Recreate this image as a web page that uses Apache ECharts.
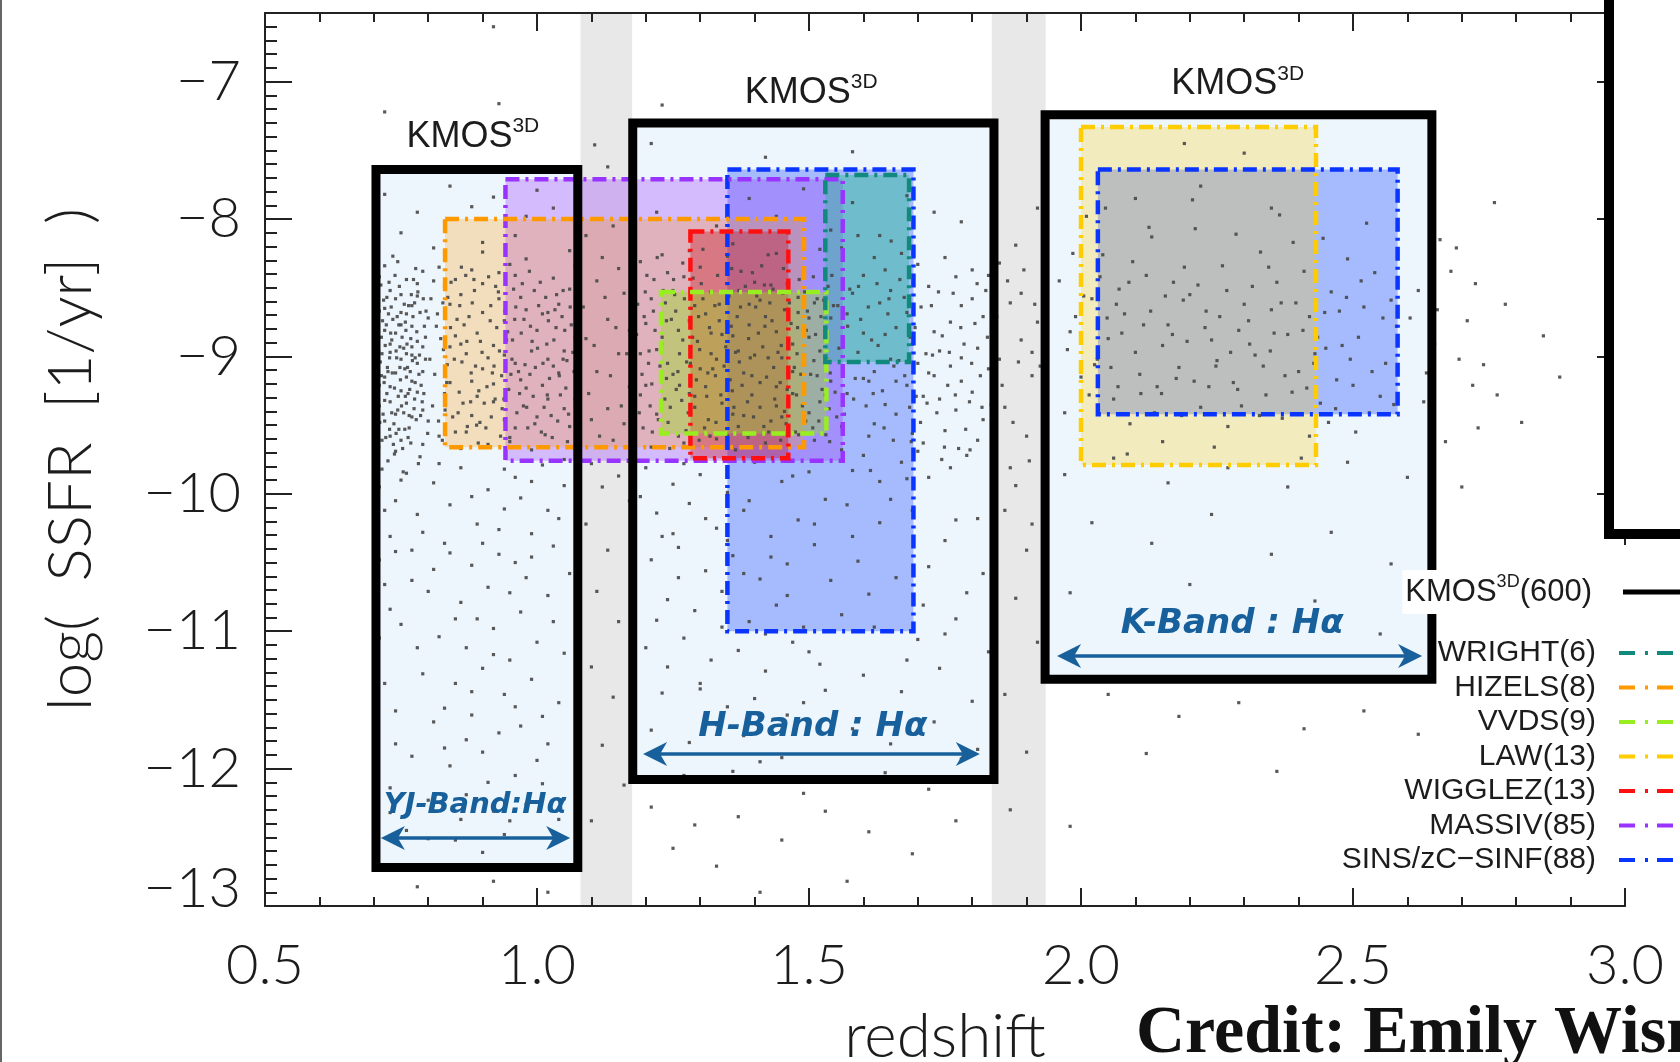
<!DOCTYPE html>
<html>
<head>
<meta charset="utf-8">
<script src="https://cdn.jsdelivr.net/npm/echarts@6/dist/echarts.min.js"></script>
<style>
html, body { margin: 0; padding: 0; background: #fff; }
#chart { width: 1680px; height: 1062px; }
</style>
</head>
<body>
<div id="chart"></div>
<script>
// ---------------- data ----------------
const xTicks = [0.5, 1.0, 1.5, 2.0, 2.5, 3.0];
const yTicks = [-13, -12, -11, -10, -9, -8, -7];

// redshift windows falling between the KMOS filters
const gapBands = [[1.08, 1.175], [1.836, 1.935]];

// KMOS3D coverage per filter: [zMin, zMax, ssfrMin, ssfrMax]
const kmosBands = ['YJ-Band:Hα', 'H-Band : Hα', 'K-Band : Hα'];
const kmosBoxes = [
  [0.704, 1.075, -12.72, -7.64],
  [1.176, 1.840, -12.08, -7.30],
  [1.934, 2.645, -11.35, -7.24]
];
const kmosCount = 600;

// earlier IFU surveys (legend order) and their sample sizes
const surveyNames = ['WRIGHT', 'HIZELS', 'VVDS', 'LAW', 'WIGGLEZ', 'MASSIV', 'SINS/zC\u2212SINF'];
const surveyCounts = [6, 8, 9, 13, 13, 85, 88];
// [survey index, zMin, zMax, ssfrMin, ssfrMax], listed bottom layer first
const surveyBoxes = [
  [6, 1.350, 1.692, -11.00, -7.64],
  [6, 2.031, 2.582, -9.42, -7.64],
  [5, 0.942, 1.562, -9.76, -7.71],
  [1, 0.831, 1.491, -9.66, -8.00],
  [4, 1.282, 1.462, -9.74, -8.09],
  [2, 1.228, 1.532, -9.56, -8.53],
  [3, 2.000, 2.432, -9.79, -7.33],
  [0, 1.530, 1.684, -9.04, -7.68]
];

// annotation anchors in (redshift, log SSFR)
const kmosTitleAt = [[0.882, -7.40], [1.504, -7.08], [2.288, -7.02]];
const bandLabelAt = [[0.886, -12.27], [1.507, -11.70], [2.278, -10.95]];
const bandArrows = [[0.713, 1.061, -12.505], [1.195, 1.814, -11.893], [1.956, 2.627, -11.18]];

// parent galaxy sample: [redshift, log SSFR]
const galaxies = [
  [0.71,-8.42],[0.72,-8.65],[0.73,-8.91],[0.74,-9.12],[0.75,-8.55],[0.76,-9.34],[0.77,-8.78],[0.78,-9.05],[0.79,-8.38],[0.71,-9.21],
  [0.72,-9.47],[0.73,-8.52],[0.74,-8.83],[0.75,-9.61],[0.76,-8.69],[0.77,-9.18],[0.78,-8.47],[0.79,-9.39],[0.715,-8.98],[0.725,-9.08],
  [0.735,-8.73],[0.745,-9.29],[0.755,-8.94],[0.765,-9.52],[0.775,-8.61],[0.785,-9.73],[0.795,-8.86],[0.72,-8.81],[0.73,-9.33],[0.74,-8.58],
  [0.75,-9.02],[0.76,-8.44],[0.77,-9.44],[0.78,-8.89],[0.79,-9.11],[0.71,-8.67],[0.73,-9.58],[0.75,-8.77],[0.77,-8.99],[0.79,-9.64],
  [0.72,-9.15],[0.74,-9.42],[0.76,-8.98],[0.78,-9.26],[0.80,-8.72],[0.71,-9.36],[0.73,-8.97],[0.75,-9.25],[0.77,-8.63],[0.79,-8.93],
  [0.72,-8.34],[0.74,-9.69],[0.76,-9.15],[0.78,-8.56],[0.80,-9.47],[0.715,-9.82],[0.735,-8.27],[0.755,-9.41],[0.775,-9.31],[0.795,-9.02],
  [0.705,-8.88],[0.712,-9.04],[0.718,-8.59],[0.724,-9.27],[0.731,-8.83],[0.737,-9.49],[0.743,-8.71],[0.749,-9.17],[0.756,-8.62],[0.762,-9.08],
  [0.768,-8.87],[0.774,-9.38],[0.781,-8.53],[0.787,-9.21],[0.793,-8.78],[0.799,-9.56],[0.708,-9.31],[0.716,-8.74],[0.722,-9.59],[0.728,-8.46],
  [0.734,-9.12],[0.741,-8.96],[0.747,-8.49],[0.753,-9.67],[0.759,-8.81],[0.766,-9.24],[0.772,-8.71],[0.778,-9.46],[0.784,-8.99],[0.791,-8.58],
  [0.706,-8.53],[0.714,-9.14],[0.721,-8.92],[0.727,-8.69],[0.733,-9.41],[0.739,-8.41],[0.746,-9.53],[0.752,-8.86],[0.758,-9.29],[0.764,-8.63],
  [0.771,-9.03],[0.777,-8.36],[0.783,-9.13],[0.789,-9.33],[0.796,-8.67],[0.709,-9.66],[0.717,-9.42],[0.726,-9.76],[0.736,-9.64],[0.744,-8.31],
  [0.754,-9.84],[0.763,-9.59],[0.773,-8.44],[0.782,-9.78],[0.792,-9.27],[0.703,-8.76],[0.713,-8.48],[0.729,-9.01],[0.748,-8.93],[0.767,-9.11],
  [0.702,-9.09],[0.707,-8.69],[0.711,-9.48],[0.719,-9.19],[0.723,-8.77],[0.729,-9.53],[0.732,-8.64],[0.738,-9.23],[0.742,-9.01],[0.746,-8.77],
  [0.751,-9.36],[0.757,-9.09],[0.761,-8.91],[0.765,-9.43],[0.769,-8.55],[0.776,-9.19],[0.779,-8.82],[0.786,-9.43],[0.704,-9.52],[0.709,-8.97],
  [0.714,-8.86],[0.720,-9.32],[0.726,-9.11],[0.733,-8.88],[0.738,-9.71],[0.744,-9.39],[0.750,-8.68],[0.757,-9.53],[0.763,-9.27],[0.770,-8.93],
  [0.706,-9.22],[0.715,-9.61],[0.724,-8.57],[0.730,-9.22],[0.741,-9.56],[0.748,-9.08],[0.758,-8.75],[0.768,-9.63],[0.776,-9.01],[0.785,-8.68],
  [0.71,-9.95],[0.72,-10.12],[0.73,-10.31],[0.71,-10.48],[0.74,-10.05],[0.72,-10.66],[0.75,-9.90],[0.73,-10.84],[0.71,-11.05],[0.74,-10.42],
  [0.72,-7.82],[0.75,-8.10],[0.78,-7.95],[0.84,-7.76],[0.88,-7.91],[0.92,-7.84],[0.96,-8.12],[1.00,-7.79],[1.03,-7.92],[0.81,-8.21],
  [0.90,-8.17],[0.98,-7.98],
  [0.82,-8.35],[0.84,-8.62],[0.86,-8.91],[0.88,-9.18],[0.90,-8.47],[0.92,-9.33],[0.94,-8.74],[0.96,-9.05],[0.98,-8.29],[1.00,-9.44],
  [1.02,-8.68],[1.04,-9.12],[1.06,-8.51],[0.83,-9.27],[0.85,-8.44],[0.87,-9.55],[0.89,-8.83],[0.91,-9.01],[0.93,-8.39],[0.95,-9.62],
  [0.97,-8.57],[0.99,-8.96],[1.01,-9.21],[1.03,-8.43],[1.05,-9.38],[1.07,-8.86],[0.815,-8.78],[0.835,-9.06],[0.855,-9.41],[0.875,-8.71],
  [0.895,-9.48],[0.915,-8.63],[0.935,-9.14],[0.955,-8.88],[0.975,-9.36],[0.995,-8.52],[1.015,-9.57],[1.035,-8.79],[1.055,-9.03],[0.82,-9.58],
  [0.84,-9.19],[0.86,-8.55],[0.88,-8.37],[0.90,-9.09],[0.92,-8.92],[0.94,-9.46],[0.96,-8.41],[0.98,-9.23],[1.00,-8.81],[1.02,-9.31],
  [1.04,-8.62],[1.06,-9.51],[0.83,-8.49],[0.87,-8.98],[0.91,-9.64],[0.95,-8.33],[0.99,-9.68],[1.03,-9.07],[1.07,-8.34],[0.85,-8.85],
  [0.89,-9.29],[0.93,-8.58],[0.97,-9.17],[1.01,-8.69],[1.05,-8.96],[0.86,-9.67],[0.90,-8.24],[0.94,-8.99],[0.98,-8.66],[1.02,-9.02],
  [1.06,-8.23],[0.84,-8.93],[0.88,-9.43],[0.92,-9.20],[0.96,-9.52],
  [0.805,-8.58],[0.812,-9.13],[0.823,-8.87],[0.831,-9.39],[0.842,-8.46],[0.848,-9.02],[0.857,-9.26],[0.866,-8.77],[0.872,-9.51],[0.881,-8.61],
  [0.887,-9.07],[0.896,-8.89],[0.903,-9.34],[0.911,-8.42],[0.918,-9.12],[0.926,-8.79],[0.933,-9.58],[0.941,-8.67],[0.948,-9.24],[0.957,-8.51],
  [0.963,-9.41],[0.971,-8.83],[0.978,-9.06],[0.986,-8.38],[0.993,-9.29],[1.001,-8.94],[1.008,-9.55],[1.016,-8.57],[1.023,-9.16],[1.031,-8.88],
  [1.038,-9.47],[1.046,-8.71],[1.053,-9.23],[1.061,-8.64],[1.068,-9.11],[0.808,-9.36],[0.817,-8.69],[0.826,-9.61],[0.836,-8.57],[0.845,-9.44],
  [0.853,-8.73],[0.862,-9.04],[0.869,-8.41],[0.878,-9.33],[0.885,-8.52],[0.892,-9.63],[0.900,-8.68],[0.908,-9.22],[0.916,-9.44],[0.924,-8.49],
  [0.931,-8.96],[0.939,-9.31],[0.946,-8.82],[0.952,-9.13],[0.961,-8.64],[0.968,-9.27],[0.976,-8.73],[0.983,-9.52],[0.991,-8.89],[0.997,-9.08],
  [1.006,-8.46],[1.013,-9.37],[1.021,-8.74],[1.028,-9.59],[1.036,-8.55],[1.043,-9.28],[1.051,-8.81],[1.058,-9.42],[1.066,-8.97],[1.072,-9.18],
  [0.803,-9.02],[0.810,-8.45],[0.819,-9.47],[0.827,-8.61],[0.834,-9.19],[0.841,-8.79],[0.850,-9.55],[0.858,-8.63],[0.864,-9.34],[0.871,-8.89],
  [0.879,-9.12],[0.884,-8.44],[0.893,-9.25],[0.899,-8.97],[0.906,-9.52],[0.914,-8.74],[0.921,-9.07],[0.929,-8.53],[0.936,-9.38],[0.944,-8.88],
  [0.950,-9.59],[0.959,-8.73],[0.966,-9.11],[0.973,-8.47],[0.981,-9.37],[0.988,-8.78],[0.996,-9.49],[1.003,-8.63],[1.011,-9.05],[1.018,-8.91],
  [1.026,-9.43],[1.033,-8.66],[1.041,-9.14],[1.048,-8.52],[1.056,-9.62],[1.063,-8.77],[1.070,-9.31],[0.828,-8.95],[0.861,-8.35],[0.889,-9.50],
  [0.923,-9.31],[0.954,-9.02],[0.987,-9.13],[1.019,-9.28],[1.048,-9.02],
  [0.76,-9.85],[0.81,-9.92],[0.86,-9.81],[0.91,-9.97],[0.96,-9.88],[1.01,-9.79],[1.05,-9.94],[0.78,-10.15],[0.84,-10.08],[0.89,-10.22],
  [0.94,-10.11],[0.99,-10.29],[1.04,-10.18],[0.77,-10.41],[0.83,-10.36],[0.88,-10.52],[0.93,-10.44],[0.98,-10.61],[1.03,-10.38],[0.80,-10.71],
  [0.86,-10.79],[0.91,-10.68],[0.97,-10.86],[1.02,-10.74],[0.75,-10.95],[0.82,-11.04],[0.87,-11.12],[0.92,-10.98],[0.95,-11.21],[1.00,-11.08],
  [1.05,-11.16],[0.79,-11.31],[0.85,-11.38],[0.90,-11.27],[0.94,-11.46],[0.99,-11.35],[1.04,-11.52],[0.74,-11.58],[0.81,-11.66],[0.88,-11.61],
  [0.93,-11.74],[0.97,-11.69],[1.02,-11.82],[0.77,-11.91],[0.84,-11.98],[0.90,-11.88],[0.96,-12.05],[1.01,-12.11],[0.73,-12.14],[0.80,-12.23],
  [0.87,-12.19],[0.92,-12.31],[0.98,-12.26],[1.04,-12.37],[0.76,-12.45],[0.85,-12.52],[0.94,-12.48],[0.89,-10.91],[0.83,-11.85],[0.96,-10.50],
  [0.72,-11.38],[0.74,-11.82],[0.73,-12.32],[0.79,-10.28],[0.81,-10.55],[0.85,-10.91],[0.88,-11.44],[0.92,-11.17],[0.95,-10.72],[0.99,-10.46],
  [1.03,-10.93],[1.06,-10.58],[0.78,-11.12],[0.83,-11.56],[0.87,-11.79],[0.91,-12.10],[0.95,-12.38],[1.00,-11.94],[1.05,-12.22],[0.80,-12.51],
  [0.88,-10.02],[0.93,-10.26],[0.97,-10.03],[1.02,-10.12],[0.84,-10.43],[0.90,-10.36],[0.96,-11.55],[1.01,-11.62],[0.77,-10.63],[0.86,-12.37],
  [0.94,-9.82],[0.82,-9.78],[0.99,-9.91],[1.05,-9.75],[0.90,-12.61],
  [0.78,-12.86],[0.92,-12.82],[1.02,-12.90],
  [1.09,-8.12],[1.11,-8.45],[1.13,-8.73],[1.15,-8.98],[1.17,-9.22],[1.10,-9.46],[1.12,-8.28],[1.14,-9.61],[1.16,-8.54],[1.09,-8.87],
  [1.11,-9.11],[1.13,-9.38],[1.15,-8.36],[1.17,-8.81],[1.10,-9.78],[1.12,-9.95],[1.14,-8.05],[1.16,-9.49],[1.09,-10.22],[1.13,-10.41],
  [1.17,-10.05],[1.11,-10.71],[1.15,-10.93],[1.10,-11.26],[1.14,-11.48],[1.12,-11.83],[1.16,-12.12],[1.10,-12.38],[1.13,-7.62],[1.15,-9.87],
  [1.085,-8.64],[1.095,-9.27],[1.105,-8.92],[1.115,-9.58],[1.125,-8.57],[1.135,-9.14],[1.145,-8.79],[1.155,-9.36],[1.165,-8.98],[1.172,-9.62],
  [1.19,-8.31],[1.21,-8.58],[1.23,-8.86],[1.25,-9.13],[1.27,-8.42],[1.29,-9.37],[1.31,-8.69],[1.33,-9.02],[1.35,-8.27],[1.37,-9.51],
  [1.39,-8.77],[1.41,-9.19],[1.43,-8.48],[1.45,-9.44],[1.47,-8.91],[1.49,-9.06],[1.51,-8.61],[1.53,-9.28],[1.20,-9.21],[1.22,-8.95],
  [1.24,-8.39],[1.26,-9.58],[1.28,-8.74],[1.30,-9.09],[1.32,-8.53],[1.34,-9.34],[1.36,-8.85],[1.38,-9.12],[1.40,-8.46],[1.42,-9.63],
  [1.44,-8.82],[1.46,-9.24],[1.48,-8.57],[1.50,-9.41],[1.52,-8.96],[1.54,-8.72],[1.195,-9.52],[1.215,-8.44],[1.235,-9.31],[1.255,-8.67],
  [1.275,-9.04],[1.295,-8.89],[1.315,-9.46],[1.335,-8.62],[1.355,-9.17],[1.375,-8.38],[1.395,-9.28],[1.415,-8.93],[1.435,-9.08],[1.455,-8.66],
  [1.475,-9.55],[1.495,-8.81],[1.515,-9.14],[1.535,-8.49],[1.20,-8.76],[1.24,-9.05],[1.28,-9.27],[1.32,-8.98],[1.36,-9.42],[1.40,-8.99],
  [1.44,-9.36],[1.48,-8.68],[1.52,-9.33],[1.22,-9.42],[1.26,-8.81],[1.30,-8.35],[1.34,-8.84],[1.38,-9.66],[1.42,-8.71],[1.46,-8.47],
  [1.50,-8.86],[1.54,-9.18],[1.21,-9.66],[1.25,-8.52],[1.29,-8.63],[1.33,-9.60],[1.37,-8.96],[1.41,-8.59],[1.45,-9.01],[1.49,-9.22],
  [1.53,-8.37],[1.23,-8.26],[1.27,-9.63],[1.31,-9.22],[1.35,-9.58],[1.39,-8.62],[1.43,-9.47],[1.47,-9.11],[1.51,-9.61],[1.19,-8.98],
  [1.28,-8.23],[1.36,-8.18],[1.44,-8.25],[1.52,-8.22],
  [1.185,-8.62],[1.193,-9.13],[1.202,-8.41],[1.208,-9.36],[1.217,-8.81],[1.226,-9.07],[1.232,-8.52],[1.241,-9.48],[1.247,-8.73],[1.256,-9.24],
  [1.262,-8.98],[1.271,-8.58],[1.278,-9.41],[1.286,-8.86],[1.293,-9.17],[1.302,-8.47],[1.308,-9.52],[1.317,-8.79],[1.323,-9.09],[1.332,-8.41],
  [1.338,-9.28],[1.347,-8.93],[1.353,-8.56],[1.362,-9.37],[1.368,-8.71],[1.377,-9.21],[1.383,-8.49],[1.392,-9.01],[1.398,-9.44],[1.407,-8.83],
  [1.413,-8.34],[1.422,-9.15],[1.428,-8.61],[1.437,-9.31],[1.443,-8.97],[1.452,-8.54],[1.458,-9.49],[1.467,-8.76],[1.473,-9.08],[1.482,-8.44],
  [1.488,-9.36],[1.497,-8.67],[1.503,-9.13],[1.512,-8.84],[1.518,-9.47],[1.527,-8.59],[1.533,-9.02],[1.542,-8.41],[1.548,-9.26],[1.188,-9.41],
  [1.197,-8.71],[1.212,-9.55],[1.221,-8.28],[1.238,-9.16],[1.251,-8.44],[1.266,-9.32],[1.282,-9.05],[1.297,-8.71],[1.312,-9.29],[1.327,-8.63],
  [1.342,-9.56],[1.357,-8.78],[1.372,-9.04],[1.387,-9.33],[1.402,-8.64],[1.417,-9.51],[1.432,-8.74],[1.447,-9.19],[1.462,-8.89],[1.477,-9.28],
  [1.492,-8.53],[1.507,-9.52],[1.522,-8.71],[1.537,-9.38],[1.206,-8.96],[1.236,-8.61],[1.268,-8.32],[1.298,-9.61],[1.328,-9.14],[1.358,-8.36],
  [1.388,-9.59],[1.418,-8.48],[1.448,-9.61],[1.478,-8.98],[1.508,-8.42],[1.538,-9.62],[1.244,-9.67],[1.305,-8.22],[1.365,-9.68],[1.425,-8.26],
  [1.183,-8.84],[1.190,-9.28],[1.199,-8.53],[1.205,-9.05],[1.214,-8.67],[1.223,-9.46],[1.229,-8.91],[1.238,-8.74],[1.245,-9.37],[1.253,-8.55],
  [1.259,-9.11],[1.268,-8.88],[1.274,-9.54],[1.283,-8.65],[1.290,-9.29],[1.299,-8.95],[1.305,-8.58],[1.314,-9.12],[1.320,-8.83],[1.329,-9.48],
  [1.335,-8.74],[1.344,-9.07],[1.350,-8.47],[1.359,-9.25],[1.365,-8.97],[1.374,-8.64],[1.380,-9.43],[1.389,-8.87],[1.395,-9.14],[1.404,-8.56],
  [1.410,-9.37],[1.419,-8.78],[1.425,-9.01],[1.434,-8.51],[1.440,-9.22],[1.449,-8.92],[1.455,-9.40],[1.464,-8.61],[1.470,-9.27],[1.479,-8.79],
  [1.485,-9.13],[1.494,-9.47],[1.500,-8.72],[1.509,-9.03],[1.515,-8.58],[1.524,-9.24],[1.530,-8.86],[1.539,-9.12],[1.545,-8.63],[1.551,-9.44],
  [1.211,-9.20],[1.262,-9.21],[1.318,-9.58],[1.371,-8.52],[1.426,-9.55],[1.481,-9.57],[1.531,-9.57],[1.287,-8.43],[1.396,-8.39],[1.453,-8.36],
  [1.22,-7.95],[1.27,-7.71],[1.33,-8.05],[1.39,-7.85],[1.44,-7.98],[1.49,-7.78],[1.54,-8.08],[1.58,-7.88],[1.63,-8.12],[1.68,-7.83],
  [1.73,-7.95],[1.78,-8.02],[1.21,-7.45],[1.42,-7.55],[1.58,-7.51],
  [1.20,-9.81],[1.25,-9.93],[1.30,-9.86],[1.35,-9.99],[1.40,-9.77],[1.45,-9.91],[1.50,-9.84],[1.22,-10.14],[1.28,-10.07],[1.33,-10.25],
  [1.38,-10.12],[1.43,-10.31],[1.48,-10.19],[1.53,-10.04],[1.21,-10.48],[1.26,-10.39],[1.31,-10.56],[1.36,-10.45],[1.41,-10.62],[1.46,-10.51],
  [1.51,-10.37],[1.24,-10.77],[1.29,-10.85],[1.34,-10.71],[1.39,-10.93],[1.44,-10.81],[1.49,-10.97],[1.20,-11.12],[1.27,-11.05],[1.32,-11.21],
  [1.37,-11.14],[1.42,-11.29],[1.47,-11.08],[1.52,-11.24],[1.23,-11.45],[1.30,-11.38],[1.35,-11.55],[1.40,-11.49],[1.46,-11.61],[1.21,-11.72],
  [1.28,-11.81],[1.38,-11.76],[1.45,-11.92],[1.52,-11.69],[1.25,-10.29],
  [1.19,-10.02],[1.23,-10.31],[1.27,-9.78],[1.31,-10.18],[1.35,-10.34],[1.39,-10.05],[1.43,-10.46],[1.47,-9.87],[1.51,-10.22],[1.54,-10.63],
  [1.22,-10.92],[1.26,-10.61],[1.30,-11.42],[1.34,-10.97],[1.38,-10.58],[1.42,-11.02],[1.46,-10.74],[1.50,-11.15],[1.53,-11.43],[1.24,-11.26],
  [1.33,-11.68],[1.41,-11.95],[1.49,-11.52],[1.36,-12.02],[1.27,-12.05],
  [1.56,-8.21],[1.58,-8.54],[1.60,-8.83],[1.62,-9.11],[1.64,-8.37],[1.66,-9.42],[1.68,-8.68],[1.70,-9.05],[1.72,-8.49],[1.74,-9.31],
  [1.76,-8.75],[1.78,-9.18],[1.80,-8.58],[1.82,-9.46],[1.57,-9.27],[1.59,-8.97],[1.61,-9.58],[1.63,-8.61],[1.65,-9.02],[1.67,-9.77],
  [1.69,-8.91],[1.71,-9.63],[1.73,-8.82],[1.75,-9.54],[1.77,-8.42],[1.79,-9.72],[1.81,-8.94],[1.83,-9.09],[1.56,-9.68],[1.60,-8.41],
  [1.64,-9.35],[1.68,-9.21],[1.72,-9.88],[1.76,-9.07],[1.80,-9.26],[1.58,-9.83],[1.62,-9.49],[1.66,-8.79],[1.70,-8.33],[1.74,-8.96],
  [1.78,-8.63],[1.82,-8.71],[1.57,-8.69],[1.61,-9.18],[1.65,-8.52],[1.69,-9.56],[1.73,-9.14],[1.77,-9.39],[1.81,-9.61],[1.59,-8.12],
  [1.67,-8.25],[1.75,-8.28],[1.83,-8.41],[1.63,-9.91],[1.71,-9.29],
  [1.555,-8.94],[1.565,-9.42],[1.575,-8.51],[1.585,-9.16],[1.595,-8.73],[1.605,-9.36],[1.615,-8.88],[1.625,-8.47],[1.635,-9.25],[1.645,-8.69],
  [1.655,-9.61],[1.665,-9.03],[1.675,-8.57],[1.685,-9.37],[1.695,-8.79],[1.705,-9.48],[1.715,-8.98],[1.725,-8.63],[1.735,-9.41],[1.745,-8.85],
  [1.755,-9.21],[1.765,-8.54],[1.775,-9.67],[1.785,-8.91],[1.795,-9.33],[1.805,-8.76],[1.815,-9.14],[1.825,-8.52],[1.835,-9.35],[1.56,-9.51],
  [1.60,-9.72],[1.64,-8.84],[1.68,-9.89],[1.72,-9.12],[1.76,-9.81],[1.80,-8.37],[1.62,-8.28],[1.70,-9.69],[1.78,-9.01],[1.66,-9.18],
  [1.553,-8.63],[1.562,-9.09],[1.571,-8.78],[1.582,-9.31],[1.591,-8.49],[1.600,-9.16],[1.609,-8.64],[1.618,-9.27],[1.627,-8.92],[1.638,-9.52],
  [1.647,-8.58],[1.656,-9.07],[1.667,-8.44],[1.676,-9.14],[1.686,-8.86],[1.697,-9.29],[1.706,-8.64],[1.717,-9.34],[1.727,-8.99],[1.738,-8.53],
  [1.749,-9.66],[1.758,-8.97],[1.769,-9.28],[1.779,-8.79],[1.788,-9.53],[1.799,-9.05],[1.809,-8.47],[1.818,-9.37],[1.828,-8.86],[1.838,-9.19],
  [1.613,-9.83],[1.688,-9.62],[1.744,-9.75],[1.796,-9.68],[1.651,-8.16],
  [1.57,-10.08],[1.63,-10.21],[1.69,-10.12],[1.75,-10.34],[1.81,-10.18],[1.59,-10.49],[1.66,-10.61],[1.72,-10.53],[1.79,-10.72],[1.56,-10.88],
  [1.62,-10.97],[1.70,-11.06],[1.77,-10.91],[1.83,-11.15],[1.60,-11.32],[1.67,-11.44],[1.74,-11.27],[1.80,-11.51],[1.58,-11.71],[1.65,-11.82],
  [1.73,-11.66],[1.78,-11.93],
  [1.58,-10.31],[1.65,-10.04],[1.71,-10.81],[1.77,-10.19],[1.82,-10.58],[1.61,-10.73],[1.68,-11.21],[1.75,-11.02],[1.81,-11.86],[1.64,-12.03],
  [1.72,-12.15],[1.79,-12.08],
  [1.85,-8.32],[1.87,-8.61],[1.89,-8.88],[1.91,-9.14],[1.93,-8.47],[1.86,-9.37],[1.88,-8.19],[1.90,-9.58],[1.92,-8.75],[1.85,-9.02],
  [1.87,-9.81],[1.89,-8.54],[1.91,-8.97],[1.93,-9.26],[1.86,-10.12],[1.90,-10.41],[1.88,-10.76],[1.92,-11.08],[1.86,-11.46],[1.90,-11.88],
  [1.87,-12.30],[1.92,-7.92],
  [1.845,-8.71],[1.855,-9.21],[1.865,-8.45],[1.875,-9.48],[1.885,-9.04],[1.895,-8.37],[1.905,-9.76],[1.915,-8.62],[1.925,-9.07],[1.935,-9.52],
  [1.88,-9.94],[1.91,-10.22],
  [1.96,-8.45],[1.98,-8.82],[2.00,-9.15],[2.02,-8.58],[2.04,-8.26],[2.06,-9.31],[2.08,-8.69],[2.10,-8.97],[2.12,-8.41],[2.14,-9.22],
  [2.16,-8.77],[2.18,-9.08],[2.20,-8.55],[2.22,-9.37],[2.24,-8.88],[2.26,-8.34],[2.28,-9.19],[2.30,-8.62],[2.32,-8.99],[2.34,-9.28],
  [2.36,-8.46],[2.38,-8.84],[2.40,-9.11],[2.42,-8.71],[2.44,-9.34],[2.46,-8.53],[2.48,-8.92],[2.50,-9.21],[2.52,-8.64],[2.54,-8.39],
  [2.56,-9.05],[2.58,-8.78],[1.97,-9.41],[2.01,-7.98],[2.05,-8.87],[2.09,-9.49],[2.13,-8.13],[2.17,-8.46],[2.21,-8.07],[2.25,-9.03],
  [2.29,-8.81],[2.33,-8.24],[2.37,-9.45],[2.41,-8.38],[2.45,-8.94],[2.49,-8.29],[2.53,-9.41],[2.57,-8.59],[2.03,-9.02],[2.07,-8.51],
  [2.11,-9.27],[2.15,-8.92],[2.19,-8.35],[2.23,-8.67],[2.27,-9.51],[2.31,-8.91],[2.35,-8.66],[2.39,-8.17],[2.43,-8.98],[2.47,-9.17],
  [2.51,-8.86],[2.55,-9.29],[2.10,-7.85],[2.22,-7.76],[2.35,-7.92],[2.19,-7.45],[2.30,-7.52],[1.99,-8.71],[2.15,-9.62],[2.42,-9.58],
  [1.975,-8.95],[2.015,-9.28],[2.035,-8.42],[2.055,-9.08],[2.075,-8.83],[2.095,-8.31],[2.115,-8.77],[2.135,-9.41],[2.155,-8.56],[2.175,-9.16],
  [2.195,-8.89],[2.215,-8.48],[2.235,-9.22],[2.255,-8.71],[2.275,-8.97],[2.295,-9.36],[2.315,-8.49],[2.335,-9.07],[2.355,-8.83],[2.375,-9.14],
  [2.395,-8.61],[2.415,-9.23],[2.435,-8.86],[2.455,-9.48],[2.475,-8.67],[2.495,-9.02],[2.515,-8.45],[2.535,-9.11],[2.555,-8.72],[2.575,-9.35],
  [2.045,-7.92],[2.125,-8.06],[2.205,-7.86],[2.285,-8.11],[2.365,-7.97],[2.445,-8.14],[2.525,-8.03],[2.085,-9.71],[2.245,-9.66],[2.405,-9.74],
  [1.985,-8.25],[2.065,-8.62],[2.185,-9.43],[2.345,-8.35],[2.505,-9.55],
  [2.005,-8.56],[2.025,-9.06],[2.048,-8.72],[2.068,-9.22],[2.088,-8.46],[2.108,-9.13],[2.128,-8.67],[2.148,-9.27],[2.168,-8.84],[2.188,-8.59],
  [2.208,-9.18],[2.228,-8.79],[2.248,-9.07],[2.268,-8.52],[2.288,-9.24],[2.308,-8.74],[2.328,-9.43],[2.348,-8.96],[2.368,-8.61],[2.388,-9.26],
  [2.408,-8.81],[2.428,-9.05],[2.448,-8.68],[2.468,-9.38],[2.488,-8.57],
  [1.97,-9.86],[2.06,-9.74],[2.16,-9.92],[2.27,-9.81],[2.38,-9.95],[2.49,-9.77],[2.60,-9.88],[2.02,-10.21],[2.13,-10.36],[2.24,-10.15],
  [2.35,-10.44],[2.46,-10.28],[2.57,-10.51],[1.98,-10.72],[2.09,-10.84],[2.20,-10.66],[2.31,-10.93],[2.43,-10.78],[2.55,-11.02],[2.05,-11.46],
  [2.18,-11.62],[2.29,-11.52],[2.41,-11.71],[2.52,-11.58],[2.12,-11.89],[2.36,-12.02],[2.62,-11.75],[1.98,-12.42],
  [2.62,-8.52],[2.65,-8.91],[2.68,-8.38],[2.71,-8.74],[2.74,-9.06],[2.78,-8.62],[2.63,-9.33],[2.67,-9.62],[2.72,-9.21],[2.85,-8.85],
  [2.76,-7.88],[2.81,-9.48],[2.66,-8.15],[2.70,-9.95],[2.88,-9.15],
  [2.605,-8.72],[2.635,-9.12],[2.655,-8.66],[2.695,-9.02],[2.725,-8.47],[2.765,-9.28],[2.69,-8.21],[2.73,-9.52],
  [1.21,-12.28],[1.29,-12.41],[1.37,-12.35],[1.45,-12.52],[1.53,-12.31],[1.61,-12.46],[1.69,-12.62],[1.77,-12.38],[1.33,-12.71],[1.57,-12.82],
  [1.25,-12.58],[1.49,-12.18],[1.41,-12.90],
  [0.72,-7.22],[0.93,-7.16],[0.92,-6.60],[1.23,-7.17],[1.106,-7.46]
];

// ---------------- styling ----------------
const surveyLineColors = ['#12897d', '#ff9900', '#99ee22', '#ffcc00', '#ff1010', '#9933ff', '#0a35ff'];
const surveyFillColors = ['rgba(30,190,130,0.40)', 'rgba(255,153,0,0.25)', 'rgba(150,220,30,0.40)',
  'rgba(255,204,0,0.25)', 'rgba(200,0,10,0.32)', 'rgba(153,51,255,0.30)', 'rgba(0,51,255,0.30)'];
const bandLabelSizes = [29, 34, 34];
const AXIS_FONT = 'Lato, "Open Sans", sans-serif';
const TEXT_FONT = '"Liberation Sans", Arial, sans-serif';
const BAND_FONT = '"DejaVu Sans", "Open Sans", sans-serif';
const BAND_BLUE = '#17609c';
const INK = '#1c1c1c';

function boxRect(api, z0, z1, s0, s1) {
  const a = api.coord([z0, s1]);
  const b = api.coord([z1, s0]);
  return { x: a[0], y: a[1], width: b[0] - a[0], height: b[1] - a[1] };
}

const chart = echarts.init(document.getElementById('chart'), null, { renderer: 'canvas' });

const tickStyle = { color: '#222', width: 2 };
const axisLineStyle = { show: true, lineStyle: { color: '#222', width: 2 } };
const labelFont = { fontFamily: AXIS_FONT, fontWeight: 300, fontSize: 56, color: INK };

function xAxisDef(pos, withLabels) {
  return {
    type: 'value', position: pos, min: xTicks[0], max: xTicks[xTicks.length - 1], interval: 0.5, z: 10,
    axisLine: axisLineStyle,
    axisTick: { show: true, inside: true, length: 18, lineStyle: tickStyle },
    minorTick: { show: true, splitNumber: 5, length: 9, lineStyle: tickStyle },
    splitLine: { show: false }, minorSplitLine: { show: false },
    axisLabel: withLabels ? Object.assign({ show: true, margin: 32, formatter: v => v.toFixed(1) }, labelFont)
                          : { show: false },
    name: withLabels ? 'redshift' : '',
    nameLocation: 'middle', nameGap: 100,
    nameTextStyle: { fontFamily: AXIS_FONT, fontWeight: 300, fontSize: 62, color: INK }
  };
}

const yMin = yTicks[0], yMax = -6.5;

function yLabel(v) {
  if (!Number.isInteger(v) || yTicks.indexOf(v) < 0) return '';
  const s = '\u2212' + Math.abs(v);
  // the bottom label sits a little above the corner
  return v === yMin ? '{lo|' + s + '}' : s;
}

const option = {
  animation: false,
  backgroundColor: '#ffffff',
  grid: { left: 265, right: 55, top: 13, bottom: 156, containLabel: false, outerBoundsMode: 'none' },
  xAxis: [xAxisDef('bottom', true), xAxisDef('top', false)],
  yAxis: [
    { // fine 0.1 ticks
      type: 'value', position: 'left', min: yMin, max: yMax, interval: 0.1, z: 10,
      axisLine: axisLineStyle,
      axisTick: { show: true, inside: true, length: 12, lineStyle: tickStyle },
      axisLabel: { show: false }, splitLine: { show: false }
    },
    { // major ticks, labels and title
      type: 'value', position: 'left', min: yMin, max: yMax, interval: 1, z: 10,
      axisLine: { show: false },
      axisTick: { show: true, inside: true, length: 27, lineStyle: tickStyle },
      splitLine: { show: false },
      axisLabel: Object.assign({
        show: true, margin: 24, showMaxLabel: false, formatter: yLabel,
        rich: { lo: Object.assign({ padding: [0, 0, 34, 0] }, labelFont) }
      }, labelFont),
      name: 'log(  SSFR  [1/yr]  )', nameLocation: 'middle', nameGap: 163, nameRotate: 90,
      nameTextStyle: { fontFamily: AXIS_FONT, fontWeight: 300, fontSize: 62, color: INK }
    },
    {
      type: 'value', position: 'right', min: yMin, max: yMax, interval: 1, z: 10,
      axisLine: axisLineStyle,
      axisTick: { show: true, inside: true, length: 28, lineStyle: tickStyle },
      axisLabel: { show: false }, splitLine: { show: false }
    }
  ],
  series: [
    {
      type: 'custom', name: 'gaps', xAxisIndex: 0, yAxisIndex: 1, z: 1, silent: true,
      data: gapBands, encode: { x: [0, 1] },
      renderItem: (params, api) => ({
        type: 'rect', shape: boxRect(api, api.value(0), api.value(1), yMin, yMax),
        style: { fill: '#e8e8e8' }
      })
    },
    {
      type: 'custom', name: 'KMOS3D fill', xAxisIndex: 0, yAxisIndex: 1, z: 2, silent: true,
      data: kmosBoxes, encode: { x: [0, 1], y: [2, 3] },
      renderItem: (params, api) => ({
        type: 'rect', shape: boxRect(api, api.value(0), api.value(1), api.value(2), api.value(3)),
        style: { fill: '#eef6fd' }
      })
    },
    {
      type: 'custom', name: 'survey fill', xAxisIndex: 0, yAxisIndex: 1, z: 3, silent: true,
      data: surveyBoxes, encode: { x: [1, 2], y: [3, 4] },
      renderItem: (params, api) => ({
        type: 'rect', shape: boxRect(api, api.value(1), api.value(2), api.value(3), api.value(4)),
        style: { fill: surveyFillColors[api.value(0)] }
      })
    },
    {
      type: 'scatter', name: 'galaxies', xAxisIndex: 0, yAxisIndex: 1, z: 4, silent: true,
      data: galaxies, symbol: 'rect', symbolSize: 3.2,
      itemStyle: { color: '#474747', opacity: 0.9 }
    },
    {
      type: 'custom', name: 'survey outline', xAxisIndex: 0, yAxisIndex: 1, z: 5, silent: true,
      data: surveyBoxes, encode: { x: [1, 2], y: [3, 4] },
      renderItem: (params, api) => ({
        type: 'rect', shape: boxRect(api, api.value(1), api.value(2), api.value(3), api.value(4)),
        style: { fill: 'none', stroke: surveyLineColors[api.value(0)], lineWidth: 4.5, lineDash: [14, 6, 3, 6] }
      })
    },
    {
      type: 'custom', name: 'KMOS3D outline', xAxisIndex: 0, yAxisIndex: 1, z: 6, silent: true,
      data: kmosBoxes, encode: { x: [0, 1], y: [2, 3] },
      renderItem: (params, api) => ({
        type: 'rect', shape: boxRect(api, api.value(0), api.value(1), api.value(2), api.value(3)),
        style: { fill: 'none', stroke: '#000', lineWidth: 9 }
      })
    },
    {
      type: 'custom', name: 'band labels', xAxisIndex: 0, yAxisIndex: 1, z: 7, silent: true,
      data: kmosTitleAt, encode: { x: 0, y: 1 },
      renderItem: (params, api) => {
        const i = params.dataIndex;
        const t = api.coord(kmosTitleAt[i]);
        const l = api.coord(bandLabelAt[i]);
        const ar = bandArrows[i];
        const a = api.coord([ar[0], ar[2]]);
        const b = api.coord([ar[1], ar[2]]);
        return {
          type: 'group',
          children: [
            {
              type: 'text', x: t[0], y: t[1],
              style: {
                text: '{m|KMOS}{s|3D}', align: 'center', verticalAlign: 'middle',
                textAlign: 'center', textVerticalAlign: 'middle',
                rich: {
                  m: { fontSize: 36, fontFamily: TEXT_FONT, fill: INK, color: INK, lineHeight: 42 },
                  s: { fontSize: 21, fontFamily: TEXT_FONT, fill: INK, color: INK, lineHeight: 22, verticalAlign: 'top' }
                }
              }
            },
            {
              type: 'text', x: l[0], y: l[1],
              style: {
                text: kmosBands[i], fill: BAND_BLUE,
                font: 'italic bold ' + bandLabelSizes[i] + 'px ' + BAND_FONT,
                align: 'center', verticalAlign: 'middle', textAlign: 'center', textVerticalAlign: 'middle'
              }
            },
            {
              type: 'line', shape: { x1: a[0] + 10, y1: a[1], x2: b[0] - 10, y2: b[1] },
              style: { stroke: BAND_BLUE, lineWidth: 3.5 }
            },
            {
              type: 'polygon',
              shape: { points: [[a[0], a[1]], [a[0] + 24, a[1] - 12], [a[0] + 17, a[1]], [a[0] + 24, a[1] + 12]] },
              style: { fill: BAND_BLUE }
            },
            {
              type: 'polygon',
              shape: { points: [[b[0], b[1]], [b[0] - 24, b[1] - 12], [b[0] - 17, b[1]], [b[0] - 24, b[1] + 12]] },
              style: { fill: BAND_BLUE }
            }
          ]
        };
      }
    }
  ]
};

// legend block (right side), text right-aligned with a line sample after it
const legendRight = 1596, legendTop = 592, legendStep = 34.5;
const graphics = [
  { type: 'line', z: 100, shape: { x1: 1, y1: 0, x2: 1, y2: 1062 }, style: { stroke: '#666', lineWidth: 2 } },
  { type: 'rect', z: 90, shape: { x: 1440, y: 545, width: 240, height: 343 }, style: { fill: '#fff' } },
  {
    type: 'text', z: 95, x: legendRight, y: legendTop,
    style: {
      text: '{m|KMOS}{s|3D}{m|(' + kmosCount + ')}', align: 'right', verticalAlign: 'middle',
      textAlign: 'right', textVerticalAlign: 'middle', backgroundColor: '#fff', padding: [3, 4, 3, 3],
      rich: {
        m: { fontSize: 31, fontFamily: TEXT_FONT, fill: INK, color: INK, lineHeight: 38 },
        s: { fontSize: 18, fontFamily: TEXT_FONT, fill: INK, color: INK, lineHeight: 20, verticalAlign: 'top' }
      }
    }
  },
  { type: 'line', z: 95, shape: { x1: 1623, y1: legendTop, x2: 1690, y2: legendTop }, style: { stroke: '#000', lineWidth: 5 } }
];
surveyNames.forEach((name, i) => {
  const y = legendTop + 61 + i * legendStep;
  graphics.push({
    type: 'text', z: 95, x: legendRight, y: y,
    style: {
      text: name + '(' + surveyCounts[i] + ')', fill: INK, font: '30px ' + TEXT_FONT,
      align: 'right', verticalAlign: 'middle', textAlign: 'right', textVerticalAlign: 'middle'
    }
  });
  graphics.push({
    type: 'polyline', z: 95, shape: { points: [[1619, y], [1673, y]] },
    style: { stroke: surveyLineColors[i], lineWidth: 4, lineDash: [16, 10, 3, 9], fill: 'none' }
  });
});
// neighbouring panel frame on the right edge
graphics.push({
  type: 'rect', z: 100, shape: { x: 1609, y: -20, width: 140, height: 554 },
  style: { fill: '#fff', stroke: '#000', lineWidth: 10 }
});
graphics.push({
  type: 'text', z: 101, x: 1136, y: 1034,
  style: {
    text: 'Credit: Emily Wisnioski', fill: '#111', font: 'bold 68px "Liberation Serif", "Times New Roman", serif',
    align: 'left', verticalAlign: 'middle', textAlign: 'left', textVerticalAlign: 'middle'
  }
});
option.graphic = { elements: graphics };

chart.setOption(option);
</script>
</body>
</html>
